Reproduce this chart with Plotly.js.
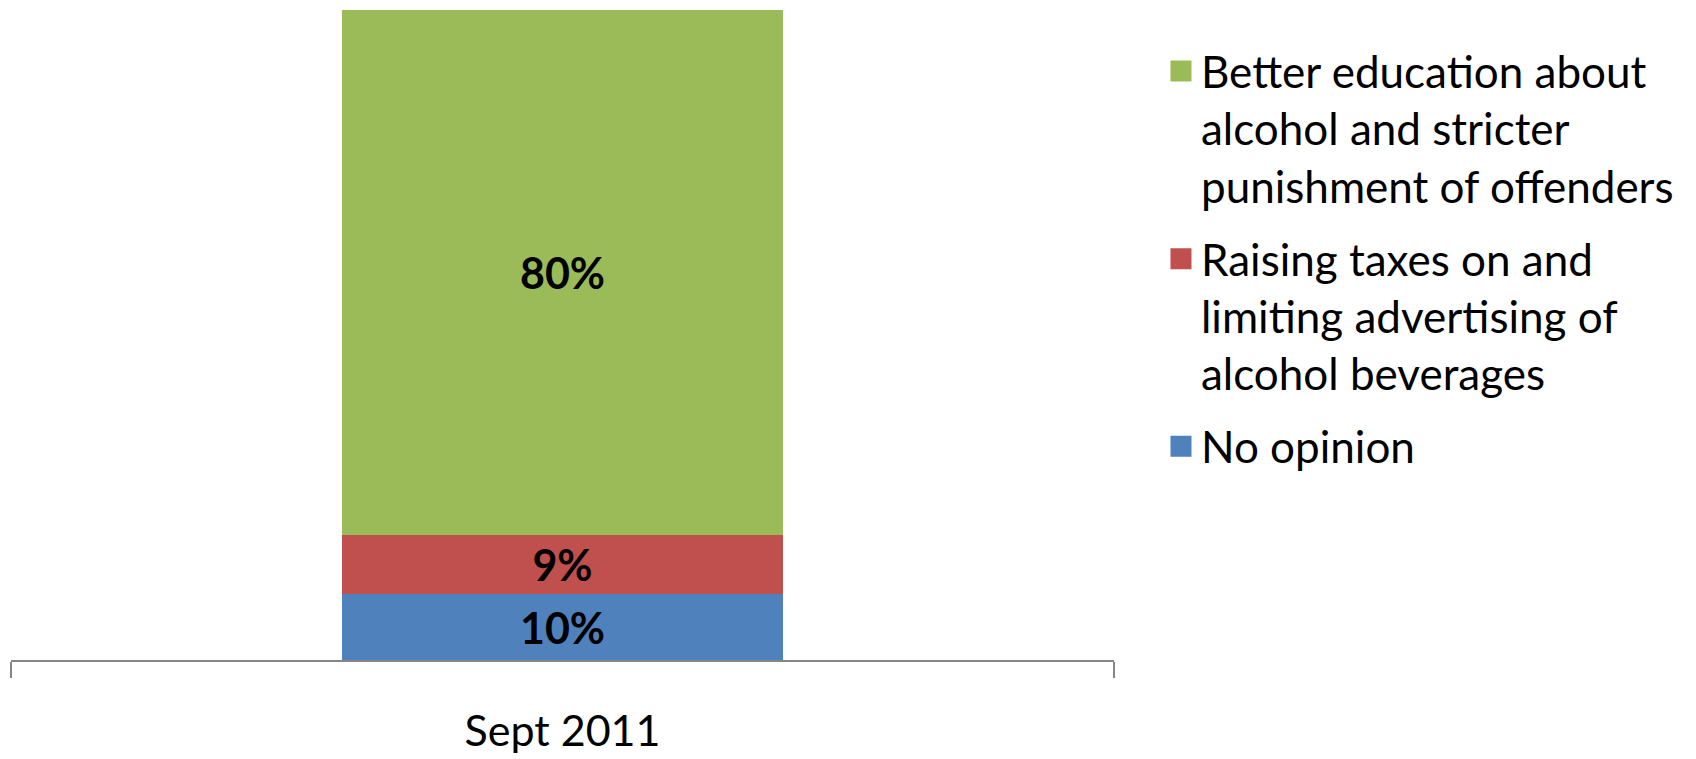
<!DOCTYPE html>
<html><head><meta charset="utf-8">
<script src="https://cdn.plot.ly/plotly-3.0.1.min.js"></script>
<style>html,body{margin:0;padding:0;background:#fff}#chart{width:1696px;height:759px}</style>
</head><body><div id="chart"></div>
<script>
const categories = ['Sept 2011'];
const noOpinion = [10];
const raisingTaxes = [9];
const betterEducation = [80];
const seriesNames = ['No opinion', 'Raising taxes on and<br>limiting advertising of<br>alcohol beverages', 'Better education about<br>alcohol and stricter<br>punishment of offenders'];
const seriesValues = [noOpinion, raisingTaxes, betterEducation];
const seriesColors = ['#4F81BD', '#C0504D', '#9BBB59'];

const FONT = 'Lato, "Open Sans", sans-serif';
const totals = categories.map((c, i) => seriesValues.reduce((s, v) => s + v[i], 0));
const yMax = Math.max(...totals);

const traces = [];
seriesValues.forEach((vals, k) => {
  traces.push({
    type: 'bar', x: categories, y: vals, name: seriesNames[k],
    marker: {color: seriesColors[k]}, showlegend: false,
    texttemplate: '%{y}%', textposition: 'inside', insidetextanchor: 'middle',
    textangle: 0, constraintext: 'none',
    insidetextfont: {family: FONT, size: 43, color: '#000', weight: 'bold'},
    hoverinfo: 'skip'
  });
});
// legend entries (top to bottom)
[2, 1, 0].forEach(k => {
  traces.push({
    type: 'scatter', mode: 'markers', x: [null], y: [null], name: seriesNames[k],
    legendgroup: 'g' + k, showlegend: true, hoverinfo: 'skip',
    marker: {symbol: 'square', size: 16, color: seriesColors[k], line: {color: seriesColors[k], width: 5}}
  });
});

const layout = {
  width: 1696, height: 759,
  margin: {l: 11, r: 582, t: 10, b: 99},
  paper_bgcolor: '#fff', plot_bgcolor: '#fff',
  barmode: 'stack', bargap: 0.6,
  showlegend: true,
  legend: {
    x: 1.0426, xanchor: 'left', y: 0.96, yanchor: 'top',
    traceorder: 'grouped', tracegroupgap: 13, valign: 'top',
    font: {family: FONT, size: 44, color: '#000'},
    bgcolor: 'rgba(0,0,0,0)'
  },
  xaxis: {
    type: 'category', showline: true, linecolor: '#868686', linewidth: 2,
    ticks: 'outside', tickson: 'boundaries', ticklen: 16, tickcolor: '#868686', tickwidth: 2,
    showgrid: false, zeroline: false, fixedrange: true,
    tickfont: {family: FONT, size: 43, color: '#000'}, ticklabelstandoff: 32
  },
  yaxis: {
    range: [0, yMax], visible: false, showgrid: false, zeroline: false, fixedrange: true
  },
  font: {family: FONT}
};

Plotly.newPlot('chart', traces, layout, {displayModeBar: false, staticPlot: true});
</script></body></html>
